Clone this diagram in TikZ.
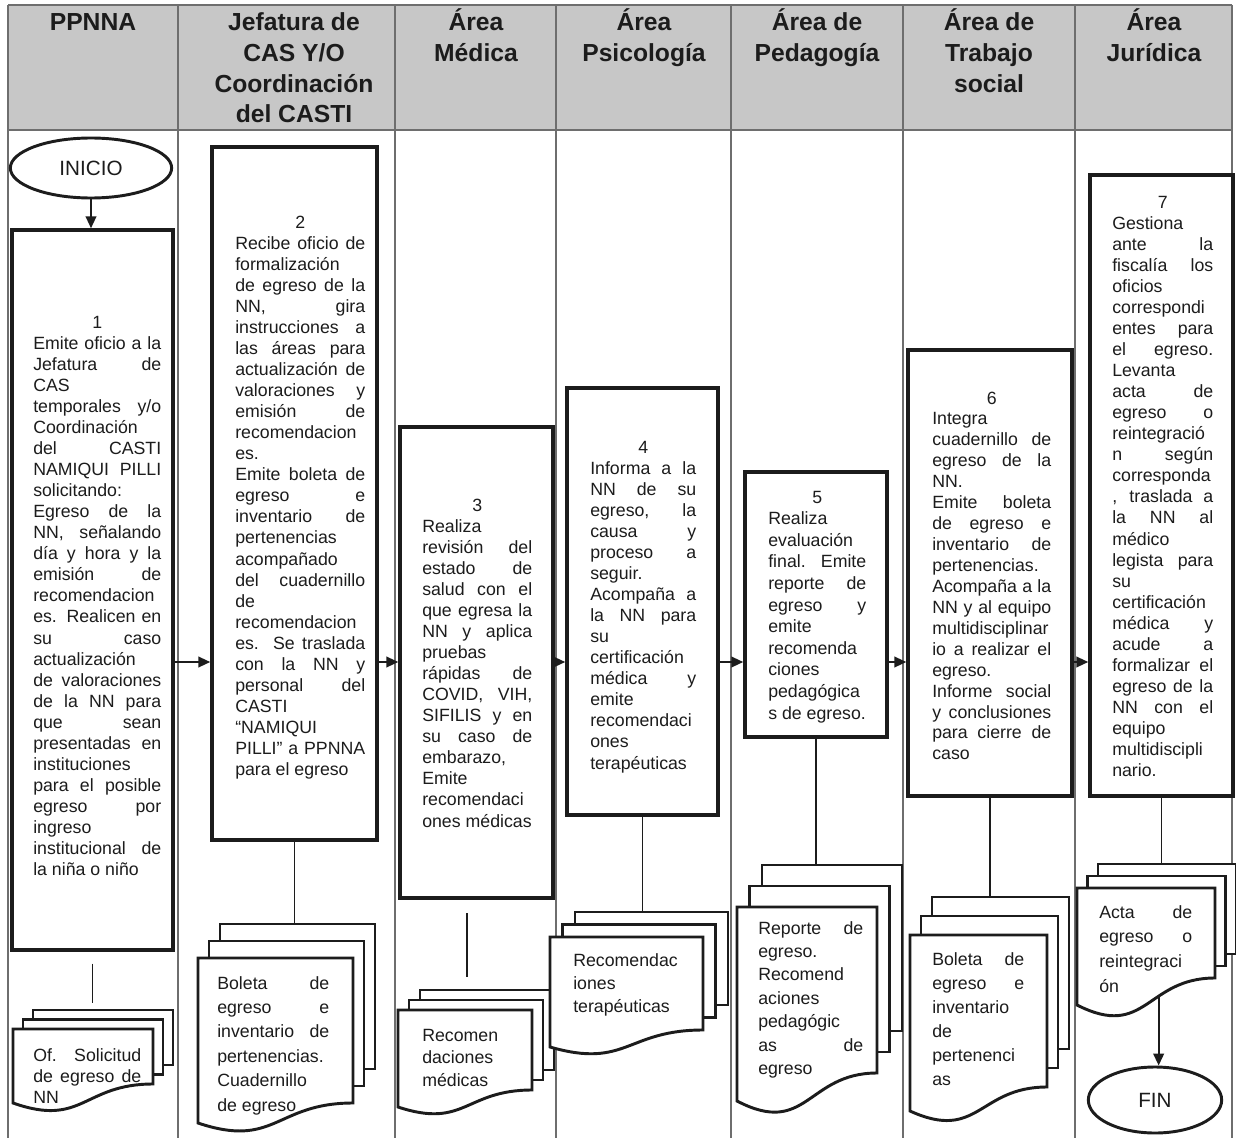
\documentclass[tikz,border=0pt]{standalone}
\usepackage{fontspec}
\setmainfont{Liberation Sans}
\usetikzlibrary{arrows.meta,fit,shapes.geometric}

\definecolor{ink}{HTML}{1C1C1C}
\definecolor{headfill}{HTML}{C7C7C7}
\definecolor{rulecol}{HTML}{6E6E6E}

\newlength\pxu
\setlength\pxu{0.75pt}
% one line of a text block: justified, ragged or centred
\newcommand\JL[1]{\makebox[\linewidth][s]{#1}}
\newcommand\RL[1]{\makebox[\linewidth][l]{#1}}
\newcommand\CL[1]{\makebox[\linewidth][c]{#1}}
\newcommand\hd[1]{\begin{tabular}[t]{@{}c@{}}#1\end{tabular}}
\newcommand\blk[2]{\parbox[t]{#1\pxu}{#2}}

% stacked documents: id, x, y (front top), width, right-edge height, wave drop, dx, dy
\newcommand\docstack[8]{%
  \draw[docline] ({#2+2*#7},{#3-2*#8}) rectangle ({#2+#4+2*#7},{#3+#5-2*#8});
  \draw[docline] ({#2+#7},{#3-#8}) rectangle ({#2+#4+#7},{#3+#5-#8});
  \draw[docline] (#2,#3) -- ({#2+#4},#3) -- ({#2+#4},{#3+#5})
    .. controls ({#2+0.5*#4},{#3+#5}) and ({#2+0.5*#4},{#3+#5+2.3*#6}) .. (#2,{#3+#5+#6})
    coordinate[pos=0.38] (#1wave) -- cycle;
  \coordinate (#1top) at ({#2+0.5*#4+2*#7},{#3-2*#8});
}

\begin{document}
\begin{tikzpicture}[x=0.75pt,y=-0.75pt,
  procbox/.style={draw=ink, line width=2.6pt, fill=white, inner sep=0pt},
  docline/.style={draw=ink, line width=2.2pt, fill=white},
  term/.style={ellipse, draw=ink, line width=2.2pt, fill=white, inner sep=0pt,
    font=\fontsize{15.5}{18}\selectfont, text=ink},
  arr/.style={draw=ink, line width=1.5pt, -{Triangle[length=9pt,width=8pt]}},
  link/.style={draw=ink, line width=1.1pt},
  grid/.style={draw=rulecol, line width=0.8pt},
  headtext/.style={font=\bfseries\fontsize{18.5}{23}\selectfont, text=ink, inner sep=0pt, anchor=base},
  bodytext/.style={font=\fontsize{13.3}{#1}\selectfont, text=ink, inner sep=0pt, anchor=base west}]

\useasboundingbox (0,0) rectangle (1236,1138);
\fill[white] (0,0) rectangle (1236,1138);

% header band and lane rules
\fill[headfill] (8,5) rectangle (1232,130);
\draw[grid] (8,5) -- (1232,5);
\draw[grid] (8,130) -- (1232,130);
\foreach \xx in {8,178,395,556,731,903,1075,1232} \draw[grid] (\xx,5) -- (\xx,1138);

\node[headtext] (h1) at (93,31) {\hd{PPNNA}};
\node[headtext] (h2) at (294,31) {\hd{Jefatura de\\CAS Y/O\\Coordinación\\del CASTI}};
\node[headtext] (h3) at (476,31) {\hd{Área\\Médica}};
\node[headtext] (h4) at (644,31) {\hd{Área\\Psicología}};
\node[headtext] (h5) at (817,31) {\hd{Área de\\Pedagogía}};
\node[headtext] (h6) at (989,31) {\hd{Área de\\Trabajo\\social}};
\node[headtext] (h7) at (1154,31) {\hd{Área\\Jurídica}};

% process boxes
\node[procbox, fit={(12,230) (173,950)}] (b1) {};
\node[procbox, fit={(212,147) (377,840)}] (b2) {};
\node[procbox, fit={(400,427) (553,898)}] (b3) {};
\node[procbox, fit={(567,388) (718,815)}] (b4) {};
\node[procbox, fit={(745,472) (887,737)}] (b5) {};
\node[procbox, fit={(908,350) (1072,796)}] (b6) {};
\node[procbox, fit={(1090,175) (1233,796)}] (b7) {};

\node[bodytext=15.8] (t1) at (33,328) {\blk{128}{\CL{1}\\
\JL{Emite oficio a la}\\ \JL{Jefatura de}\\ \RL{CAS}\\ \JL{temporales y/o}\\
\RL{Coordinación}\\ \JL{del CASTI}\\ \JL{NAMIQUI PILLI}\\ \RL{solicitando:}\\
\JL{Egreso de la}\\ \JL{NN, señalando}\\ \JL{día y hora y la}\\ \JL{emisión de}\\
\RL{recomendacion}\\ \JL{es. Realicen en}\\ \JL{su caso}\\ \RL{actualización}\\
\JL{de valoraciones}\\ \JL{de la NN para}\\ \JL{que sean}\\ \JL{presentadas en}\\
\RL{instituciones}\\ \JL{para el posible}\\ \JL{egreso por}\\ \RL{ingreso}\\
\JL{institucional de}\\ \RL{la niña o niño}}};

\node[bodytext=15.8] (t2) at (235,228) {\blk{130}{\CL{2}\\
\JL{Recibe oficio de}\\ \RL{formalización}\\ \JL{de egreso de la}\\ \JL{NN, gira}\\
\JL{instrucciones a}\\ \JL{las áreas para}\\ \JL{actualización de}\\ \JL{valoraciones y}\\
\JL{emisión de}\\ \RL{recomendacion}\\ \RL{es.}\\ \JL{Emite boleta de}\\
\JL{egreso e}\\ \JL{inventario de}\\ \RL{pertenencias}\\ \RL{acompañado}\\
\JL{del cuadernillo}\\ \RL{de}\\ \RL{recomendacion}\\ \JL{es. Se traslada}\\
\JL{con la NN y}\\ \JL{personal del}\\ \RL{CASTI}\\ \RL{“NAMIQUI}\\
\JL{PILLI” a PPNNA}\\ \RL{para el egreso}}};

\node[bodytext=15.8] (t3) at (422,511) {\blk{110}{\CL{3}\\
\RL{Realiza}\\ \JL{revisión del}\\ \JL{estado de}\\ \JL{salud con el}\\
\JL{que egresa la}\\ \JL{NN y aplica}\\ \RL{pruebas}\\ \JL{rápidas de}\\
\JL{COVID, VIH,}\\ \JL{SIFILIS y en}\\ \JL{su caso de}\\ \RL{embarazo,}\\
\RL{Emite}\\ \RL{recomendaci}\\ \RL{ones médicas}}};

\node[bodytext=15.8] (t4) at (590,453) {\blk{106}{\CL{4}\\
\JL{Informa a la}\\ \JL{NN de su}\\ \JL{egreso, la}\\ \JL{causa y}\\
\JL{proceso a}\\ \RL{seguir.}\\ \JL{Acompaña a}\\ \JL{la NN para}\\ \RL{su}\\
\RL{certificación}\\ \JL{médica y}\\ \RL{emite}\\ \RL{recomendaci}\\ \RL{ones}\\
\RL{terapéuticas}}};

\node[bodytext=16.2] (t5) at (768,503) {\blk{98}{\CL{5}\\
\RL{Realiza}\\ \RL{evaluación}\\ \JL{final. Emite}\\ \JL{reporte de}\\
\JL{egreso y}\\ \RL{emite}\\ \RL{recomenda}\\ \RL{ciones}\\ \RL{pedagógica}\\
\RL{s de egreso.}}};

\node[bodytext=15.7] (t6) at (932,404) {\blk{119}{\CL{6}\\
\RL{Integra}\\ \JL{cuadernillo de}\\ \JL{egreso de la}\\ \RL{NN.}\\
\JL{Emite boleta}\\ \JL{de egreso e}\\ \JL{inventario de}\\ \RL{pertenencias.}\\
\JL{Acompaña a la}\\ \JL{NN y al equipo}\\ \RL{multidisciplinar}\\
\JL{io a realizar el}\\ \RL{egreso.}\\ \JL{Informe social}\\ \JL{y conclusiones}\\
\JL{para cierre de}\\ \RL{caso}}};

\node[bodytext=15.8] (t7) at (1112,208) {\blk{101}{\CL{7}\\
\RL{Gestiona}\\ \JL{ante la}\\ \JL{fiscalía los}\\ \RL{oficios}\\
\RL{correspondi}\\ \JL{entes para}\\ \JL{el egreso.}\\ \RL{Levanta}\\
\JL{acta de}\\ \JL{egreso o}\\ \RL{reintegració}\\ \JL{n según}\\
\RL{corresponda}\\ \JL{, traslada a}\\ \JL{la NN al}\\ \RL{médico}\\
\JL{legista para}\\ \RL{su}\\ \RL{certificación}\\ \JL{médica y}\\
\JL{acude a}\\ \JL{formalizar el}\\ \JL{egreso de la}\\ \JL{NN con el}\\
\RL{equipo}\\ \RL{multidiscipli}\\ \RL{nario.}}};

% document stacks
\docstack{d1}{13}{1029}{140}{55}{19}{10}{9.5}
\docstack{d2}{198}{958}{155}{145}{20}{11}{17}
\docstack{d3}{398}{1010}{134}{80}{17}{11}{10}
\docstack{d4}{550}{937}{153}{93}{17}{12.5}{12.5}
\docstack{d5}{737}{907}{140}{166}{28}{12.5}{21}
\docstack{d6}{910}{935}{137}{152}{24}{11}{19}
\docstack{d7}{1077}{888}{138}{90}{27}{10.5}{12}

\node[bodytext=16.1] (x1) at (33,1061) {\blk{108}{\JL{Of. Solicitud}\\ \JL{de egreso de}\\ \RL{NN}}};
\node[bodytext=18.3] (x2) at (217,989) {\blk{112}{\JL{Boleta de}\\ \JL{egreso e}\\
\JL{inventario de}\\ \RL{pertenencias.}\\ \RL{Cuadernillo}\\ \RL{de egreso}}};
\node[bodytext=16.9] (x3) at (422,1041) {\blk{100}{\RL{Recomen}\\ \RL{daciones}\\ \RL{médicas}}};
\node[bodytext=17.3] (x4) at (573,966) {\blk{110}{\RL{Recomendac}\\ \RL{iones}\\ \RL{terapéuticas}}};
\node[bodytext=17.6] (x5) at (758,934) {\blk{105}{\JL{Reporte de}\\ \RL{egreso.}\\
\RL{Recomend}\\ \RL{aciones}\\ \RL{pedagógic}\\ \JL{as de}\\ \RL{egreso}}};
\node[bodytext=18] (x6) at (932,965) {\blk{92}{\JL{Boleta de}\\ \JL{egreso e}\\
\RL{inventario}\\ \RL{de}\\ \RL{pertenenci}\\ \RL{as}}};
\node[bodytext=18.5] (x7) at (1099,918) {\blk{93}{\JL{Acta de}\\ \JL{egreso o}\\
\RL{reintegraci}\\ \RL{ón}}};

% terminators
\node[term, minimum width=121pt, minimum height=45pt] (inicio) at (91,168) {INICIO};
\node[term, minimum width=100pt, minimum height=49.5pt] (fin) at (1155,1100) {FIN};

% box to document links
\draw[link, shorten <=9pt, shorten >=5pt] (b1.south) -- (b1.south |- d1top);
\draw[link] (b2.south) -- (b2.south |- d2top);
\draw[link, shorten <=10pt, shorten >=10pt] ([xshift=-7pt]b3.south) -- ([xshift=-7pt]b3.south |- d3top);
\draw[link] (b4.south) -- (b4.south |- d4top);
\draw[link] (b5.south) -- (b5.south |- d5top);
\draw[link] (b6.south) -- (b6.south |- d6top);
\draw[link] (b7.south) -- (b7.south |- d7top);

% flow arrows
\coordinate (flow) at (0,662);
\draw[arr] (inicio) -- (inicio |- b1.north);
\draw[arr] (b1.east |- flow) -- (b2.west |- flow);
\draw[arr] (b2.east |- flow) -- (b3.west |- flow);
\draw[arr] (b3.east |- flow) -- (b4.west |- flow);
\draw[arr] (b4.east |- flow) -- (b5.west |- flow);
\draw[arr] (b5.east |- flow) -- (b6.west |- flow);
\draw[arr] (b6.east |- flow) -- (b7.west |- flow);
\draw[arr] (d7wave) -- (d7wave |- fin.north);
\end{tikzpicture}
\end{document}
